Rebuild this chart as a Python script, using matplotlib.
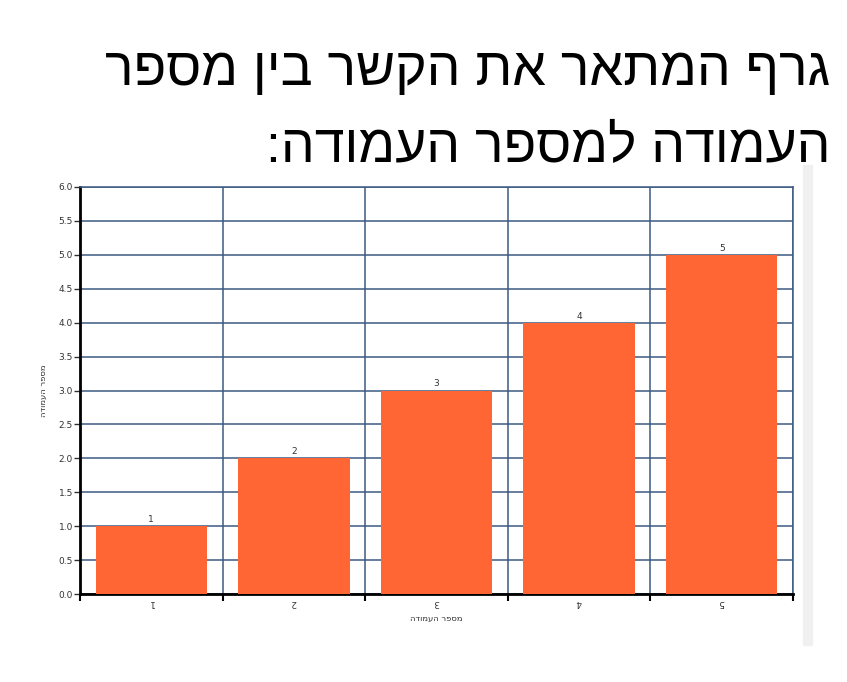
import matplotlib
matplotlib.use("Agg")
import matplotlib.pyplot as plt
from matplotlib.patches import Rectangle

# נתונים
categories = ["1", "2", "3", "4", "5"]
values = [1, 2, 3, 4, 5]
bar_labels = ["1", "2", "3", "4", "5"]
y_ticks = [0.0, 0.5, 1.0, 1.5, 2.0, 2.5, 3.0, 3.5, 4.0, 4.5, 5.0, 5.5, 6.0]

title_line1 = "גרף המתאר את הקשר בין מספר"
title_line2 = "העמודה למספר העמודה:"
axis_label = "מספר העמודה"


def rtl(s):
    # matplotlib draws left to right, so flip the Hebrew string
    return s[::-1]


bar_color = "#ff6633"
grid_color = "#3c5a82"

plt.rcParams["font.family"] = ["DejaVu Sans"]

fig = plt.figure(figsize=(8.47, 6.82), dpi=100)
ax = fig.add_axes([80 / 847, 88 / 682, 713 / 847, 407 / 682])

x = list(range(len(categories)))
ax.bar(x, values, width=0.78, color=bar_color, zorder=3)

for xi, v, lab in zip(x, values, bar_labels):
    ax.annotate(lab, (xi, v), xytext=(0, 1.5), textcoords="offset points",
                ha="center", va="bottom", fontsize=6.5, color="#333333",
                bbox=dict(boxstyle="square,pad=0.1", fc="white", ec="none"),
                zorder=4)

ax.set_xlim(-0.5, len(categories) - 0.5)
ax.set_ylim(0, 6)
ax.set_yticks(y_ticks)
ax.set_yticklabels([f"{t:.1f}" for t in y_ticks], fontsize=6.5, color="#333333")

ax.set_xticks(x)
ax.set_xticklabels(categories, fontsize=6.5, color="#333333", rotation=180)
ax.set_xticks([i - 0.5 for i in range(len(categories) + 1)], minor=True)
ax.tick_params(axis="x", which="major", length=0, pad=3)
ax.tick_params(axis="x", which="minor", length=5, width=1.5, color="black")
ax.tick_params(axis="y", length=4, width=1, color="#333333", pad=1)

ax.grid(True, axis="y", which="major", color=grid_color, linewidth=1.1, zorder=0)
ax.grid(True, axis="x", which="minor", color=grid_color, linewidth=1.1, zorder=0)
ax.set_axisbelow(True)

for side in ["top", "right"]:
    ax.spines[side].set_color(grid_color)
    ax.spines[side].set_linewidth(1.1)
for side in ["left", "bottom"]:
    ax.spines[side].set_color("black")
    ax.spines[side].set_linewidth(2)

ax.set_xlabel(rtl(axis_label), fontsize=6, color="#333333", labelpad=5)
ax.set_ylabel(rtl(axis_label), fontsize=6, color="#333333", labelpad=8)

# כותרת
title_font = ["Liberation Sans", "DejaVu Sans"]
fig.text(830 / 847, 1 - 85 / 682, rtl(title_line1), ha="right", va="baseline",
         fontsize=38.5, family=title_font, color="black")
fig.text(830 / 847, 1 - 162 / 682, rtl(title_line2), ha="right", va="baseline",
         fontsize=38.5, family=title_font, color="black")

# פס אפור בצד ימין
fig.patches.append(Rectangle((803 / 847, 1 - 645 / 682), 9 / 847, 480 / 682,
                             transform=fig.transFigure, color="#f0f0f0", zorder=0))

fig.savefig("out.png", dpi=100)
